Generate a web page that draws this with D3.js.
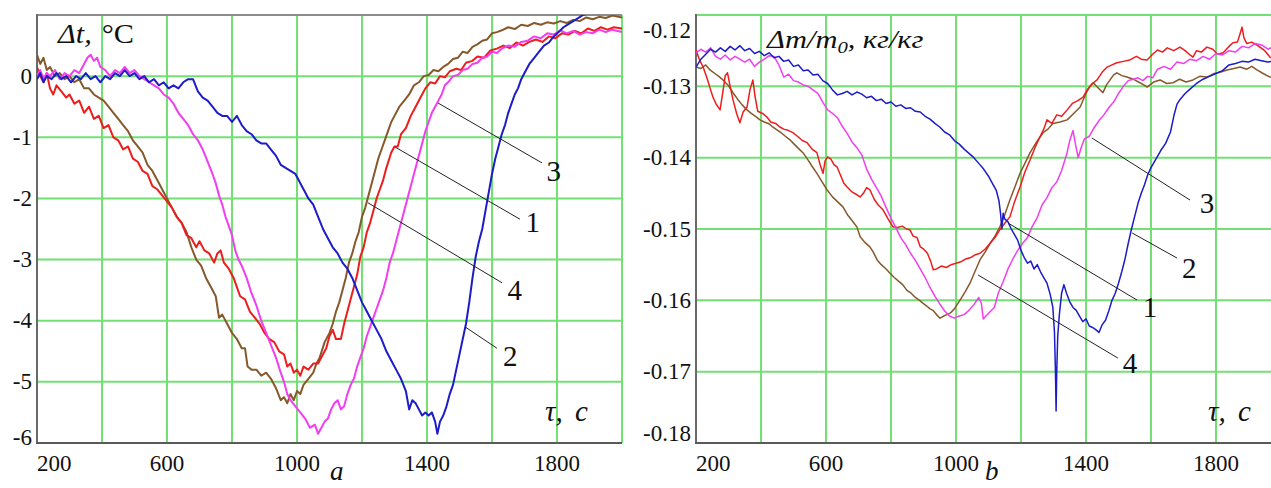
<!DOCTYPE html>
<html>
<head>
<meta charset="utf-8">
<script src="https://cdn.jsdelivr.net/npm/d3@7"></script>
<style>
  html, body { margin: 0; padding: 0; background: #fff; }
  svg { display: block; }
  text { font-family: "Liberation Serif", "Times New Roman", Times, "DejaVu Serif", serif; fill: #111; }
</style>
</head>
<body>
<svg id="chart" width="1271" height="488" font-family="Liberation Serif, Times New Roman, Times, DejaVu Serif, serif"></svg>
<script>
// ---------- time axis (τ, s) ----------
const tauTicks = [200, 600, 1000, 1400, 1800];
const tauTickLabels = ["200", "600", "1000", "1400", "1800"];
const tauGrid = [400, 600, 800, 1000, 1200, 1400, 1600, 1800, 2000];

// ---------- panel a: temperature difference Δt, °C ----------
const dtTicks = [0, -1, -2, -3, -4, -5, -6];
const dtTickLabels = ["0", "-1", "-2", "-3", "-4", "-5", "-6"];

// curve 1 (red)
const dt1 = [[200,0.15],[210,0.0],[220,-0.1],[230,0.05],[240,-0.2],[250,-0.3],[260,-0.15],[275,-0.25],[290,-0.35],[300,-0.3],[315,-0.45],[330,-0.4],[345,-0.6],[360,-0.5],[375,-0.7],[390,-0.65],[405,-0.85],[420,-0.8],[435,-1.0],[450,-1.05],[465,-1.2],[480,-1.15],[495,-1.35],[510,-1.4],[525,-1.55],[540,-1.6],[555,-1.8],[570,-1.85],[585,-1.95],[600,-2.05],[615,-2.15],[630,-2.3],[645,-2.4],[660,-2.6],[675,-2.65],[690,-2.8],[700,-2.7],[715,-2.85],[730,-2.9],[745,-3.05],[755,-2.9],[765,-2.85],[775,-3.05],[790,-3.15],[805,-3.3],[815,-3.45],[825,-3.6],[840,-3.65],[855,-3.85],[870,-3.95],[885,-4.05],[900,-4.2],[915,-4.3],[930,-4.35],[945,-4.5],[960,-4.55],[970,-4.75],[980,-4.7],[990,-4.85],[1000,-4.8],[1010,-4.9],[1020,-4.75],[1035,-4.8],[1050,-4.7],[1065,-4.7],[1080,-4.55],[1090,-4.45],[1100,-4.25],[1110,-4.15],[1120,-4.3],[1135,-4.3],[1145,-4.05],[1155,-3.85],[1165,-3.65],[1175,-3.45],[1185,-3.25],[1195,-2.95],[1205,-2.8],[1215,-2.55],[1225,-2.4],[1235,-2.2],[1245,-2.0],[1255,-1.85],[1265,-1.7],[1275,-1.5],[1290,-1.25],[1300,-1.15],[1310,-1.15],[1320,-0.95],[1335,-0.85],[1350,-0.65],[1365,-0.5],[1380,-0.35],[1395,-0.2],[1410,-0.1],[1425,-0.12],[1440,0.0],[1455,-0.02],[1470,0.08],[1490,0.12],[1505,0.1],[1520,0.22],[1540,0.25],[1555,0.32],[1575,0.3],[1595,0.42],[1615,0.45],[1635,0.5],[1655,0.46],[1675,0.55],[1695,0.5],[1715,0.56],[1735,0.6],[1755,0.56],[1775,0.65],[1795,0.62],[1815,0.7],[1835,0.68],[1855,0.74],[1875,0.7],[1895,0.78],[1915,0.74],[1935,0.8],[1955,0.76],[1975,0.8],[2000,0.78]];

// curve 2 (blue)
const dt2 = [[200,-0.05],[210,0.05],[220,-0.1],[230,0.0],[245,-0.05],[260,0.05],[275,-0.05],[290,0.0],[305,-0.1],[320,0.0],[335,-0.05],[350,0.05],[365,-0.05],[380,0.0],[395,-0.1],[410,0.0],[425,-0.05],[440,0.05],[455,0.0],[470,0.1],[485,0.0],[500,0.05],[515,-0.05],[530,0.0],[545,-0.1],[560,-0.05],[575,-0.15],[590,-0.1],[605,-0.2],[620,-0.15],[635,-0.2],[650,-0.1],[665,-0.05],[680,-0.05],[695,-0.25],[710,-0.35],[725,-0.4],[740,-0.5],[755,-0.6],[770,-0.65],[785,-0.65],[800,-0.75],[815,-0.65],[830,-0.8],[845,-0.9],[860,-0.95],[875,-1.05],[890,-1.1],[905,-1.1],[920,-1.2],[935,-1.3],[950,-1.45],[965,-1.5],[980,-1.55],[995,-1.6],[1005,-1.7],[1015,-1.8],[1025,-1.9],[1035,-2.0],[1050,-2.1],[1065,-2.3],[1080,-2.5],[1095,-2.65],[1110,-2.8],[1125,-2.9],[1140,-3.05],[1155,-3.15],[1170,-3.3],[1185,-3.5],[1200,-3.7],[1215,-3.85],[1230,-4.0],[1245,-4.15],[1260,-4.3],[1275,-4.5],[1290,-4.65],[1305,-4.8],[1320,-4.95],[1335,-5.15],[1345,-5.45],[1355,-5.3],[1365,-5.35],[1375,-5.45],[1385,-5.55],[1395,-5.5],[1405,-5.55],[1415,-5.5],[1425,-5.65],[1432,-5.85],[1440,-5.65],[1450,-5.55],[1460,-5.4],[1470,-5.2],[1480,-5.05],[1490,-4.8],[1500,-4.55],[1510,-4.3],[1520,-4.05],[1530,-3.7],[1540,-3.3],[1550,-2.95],[1560,-2.7],[1570,-2.5],[1580,-2.2],[1590,-1.9],[1600,-1.6],[1610,-1.35],[1620,-1.15],[1630,-0.95],[1640,-0.8],[1650,-0.6],[1660,-0.45],[1670,-0.3],[1680,-0.2],[1690,-0.05],[1700,0.05],[1715,0.2],[1730,0.3],[1745,0.4],[1760,0.5],[1775,0.55],[1790,0.65],[1805,0.72],[1820,0.8],[1835,0.85],[1850,0.9],[1865,0.95],[1880,1.0],[1900,1.03],[1930,1.05],[1960,1.04],[2000,1.06]];

// curve 3 (magenta)
const dt3 = [[200,0.0],[210,0.1],[220,-0.05],[230,0.05],[240,0.0],[255,0.1],[270,-0.05],[285,0.05],[300,0.0],[315,0.1],[330,0.05],[345,0.2],[355,0.3],[365,0.35],[375,0.25],[385,0.3],[395,0.15],[410,0.1],[425,0.0],[440,0.1],[455,0.05],[470,0.15],[485,0.05],[500,0.1],[515,0.0],[530,-0.05],[545,-0.1],[560,-0.15],[575,-0.2],[590,-0.3],[605,-0.35],[620,-0.45],[635,-0.6],[650,-0.7],[665,-0.8],[680,-0.95],[695,-1.05],[710,-1.2],[725,-1.4],[740,-1.6],[750,-1.75],[760,-1.95],[770,-2.1],[780,-2.3],[790,-2.45],[800,-2.6],[810,-2.85],[820,-3.0],[830,-3.1],[845,-3.3],[860,-3.55],[875,-3.75],[890,-4.0],[905,-4.2],[920,-4.4],[935,-4.6],[950,-4.85],[960,-5.0],[970,-5.2],[980,-5.3],[995,-5.4],[1010,-5.5],[1025,-5.6],[1040,-5.75],[1055,-5.7],[1065,-5.85],[1075,-5.75],[1085,-5.65],[1095,-5.6],[1105,-5.45],[1115,-5.35],[1125,-5.3],[1135,-5.45],[1145,-5.4],[1155,-5.2],[1165,-5.05],[1175,-4.95],[1185,-4.75],[1195,-4.6],[1205,-4.45],[1215,-4.25],[1225,-4.1],[1235,-3.95],[1245,-3.8],[1255,-3.65],[1265,-3.5],[1275,-3.3],[1285,-3.05],[1295,-2.9],[1305,-2.7],[1315,-2.5],[1325,-2.3],[1335,-2.1],[1345,-1.9],[1355,-1.7],[1365,-1.5],[1375,-1.3],[1385,-1.1],[1395,-0.9],[1405,-0.75],[1415,-0.6],[1425,-0.5],[1435,-0.4],[1445,-0.3],[1455,-0.15],[1465,-0.1],[1480,0.0],[1495,0.02],[1510,0.1],[1525,0.12],[1540,0.2],[1555,0.22],[1570,0.3],[1585,0.32],[1600,0.4],[1615,0.38],[1630,0.45],[1650,0.5],[1670,0.48],[1690,0.56],[1710,0.58],[1730,0.65],[1750,0.62],[1770,0.7],[1790,0.68],[1810,0.75],[1830,0.7],[1850,0.74],[1870,0.68],[1890,0.72],[1910,0.7],[1930,0.76],[1950,0.72],[1970,0.76],[2000,0.72]];

// curve 4 (brown)
const dt4 = [[200,0.35],[210,0.2],[220,0.3],[230,0.1],[240,0.15],[255,0.0],[270,0.05],[285,-0.05],[300,0.0],[315,-0.1],[330,-0.05],[345,-0.2],[360,-0.2],[375,-0.3],[390,-0.35],[405,-0.4],[420,-0.5],[435,-0.6],[450,-0.7],[465,-0.8],[480,-0.9],[495,-1.05],[510,-1.15],[525,-1.25],[540,-1.45],[555,-1.55],[570,-1.7],[585,-1.85],[600,-2.0],[615,-2.15],[630,-2.3],[645,-2.4],[660,-2.55],[675,-2.8],[690,-3.0],[705,-3.1],[720,-3.3],[735,-3.45],[750,-3.6],[760,-3.95],[770,-3.9],[785,-4.05],[800,-4.2],[815,-4.3],[830,-4.45],[840,-4.45],[848,-4.75],[860,-4.8],[875,-4.8],[890,-4.9],[905,-4.85],[920,-4.95],[935,-5.1],[950,-5.3],[960,-5.25],[970,-5.35],[980,-5.2],[990,-5.3],[1000,-5.15],[1010,-5.2],[1020,-5.05],[1035,-4.95],[1050,-4.85],[1060,-4.7],[1070,-4.6],[1085,-4.35],[1100,-4.2],[1110,-4.05],[1120,-3.85],[1130,-3.7],[1140,-3.5],[1150,-3.3],[1160,-3.05],[1170,-2.9],[1180,-2.7],[1190,-2.55],[1200,-2.3],[1210,-2.15],[1220,-1.95],[1230,-1.75],[1240,-1.55],[1250,-1.35],[1260,-1.2],[1270,-1.05],[1280,-0.9],[1290,-0.75],[1300,-0.65],[1315,-0.5],[1330,-0.4],[1345,-0.3],[1360,-0.15],[1375,-0.1],[1390,0.0],[1405,0.02],[1420,0.1],[1435,0.08],[1450,0.15],[1465,0.2],[1480,0.28],[1495,0.3],[1510,0.4],[1525,0.38],[1540,0.48],[1555,0.52],[1570,0.58],[1585,0.6],[1600,0.7],[1615,0.72],[1630,0.75],[1650,0.8],[1670,0.77],[1690,0.84],[1710,0.82],[1730,0.87],[1750,0.84],[1770,0.88],[1790,0.86],[1810,0.9],[1830,0.87],[1850,0.92],[1870,0.9],[1890,0.96],[1910,0.93],[1930,0.97],[1950,0.95],[1970,0.99],[2000,0.96]];

// ---------- panel b: relative mass change Δm/m0, kg/kg ----------
const dmTicks = [-0.12, -0.13, -0.14, -0.15, -0.16, -0.17, -0.18];
const dmTickLabels = ["-0.12", "-0.13", "-0.14", "-0.15", "-0.16", "-0.17", "-0.18"];

// curve 1 (red)
const dm1 = [[200,-0.1249],[210,-0.1262],[222,-0.1273],[235,-0.1290],[245,-0.1305],[252,-0.1315],[262,-0.1325],[274,-0.1333],[282,-0.1310],[290,-0.1285],[297,-0.1281],[305,-0.1300],[314,-0.1319],[325,-0.1338],[335,-0.1351],[345,-0.1336],[357,-0.1329],[366,-0.1305],[375,-0.1291],[382,-0.1315],[390,-0.1335],[405,-0.1338],[418,-0.1343],[430,-0.1350],[445,-0.1352],[458,-0.1357],[470,-0.1360],[485,-0.1362],[498,-0.1365],[512,-0.1370],[527,-0.1376],[542,-0.1379],[557,-0.1388],[572,-0.1393],[582,-0.1410],[591,-0.1422],[597,-0.1405],[605,-0.1399],[615,-0.1402],[625,-0.1410],[634,-0.1413],[645,-0.1425],[655,-0.1436],[665,-0.1441],[680,-0.1448],[695,-0.1452],[705,-0.1455],[715,-0.1450],[725,-0.1442],[735,-0.1445],[748,-0.1458],[760,-0.1466],[775,-0.1473],[790,-0.1485],[806,-0.1497],[820,-0.1498],[835,-0.1496],[848,-0.1500],[858,-0.1501],[868,-0.1510],[880,-0.1512],[890,-0.1525],[900,-0.1528],[912,-0.1534],[922,-0.1545],[930,-0.1557],[940,-0.1556],[955,-0.1552],[970,-0.1554],[985,-0.1550],[1000,-0.1548],[1015,-0.1546],[1030,-0.1542],[1045,-0.1540],[1060,-0.1536],[1074,-0.1534],[1090,-0.1528],[1105,-0.1520],[1120,-0.1512],[1135,-0.1501],[1150,-0.1492],[1166,-0.1483],[1180,-0.1462],[1197,-0.1441],[1212,-0.1420],[1228,-0.1403],[1243,-0.1386],[1258,-0.1371],[1270,-0.1360],[1280,-0.1347],[1295,-0.1352],[1310,-0.1340],[1325,-0.1342],[1342,-0.1333],[1358,-0.1324],[1375,-0.1320],[1391,-0.1315],[1405,-0.1304],[1420,-0.1296],[1434,-0.1291],[1450,-0.1280],[1465,-0.1273],[1480,-0.1270],[1495,-0.1267],[1515,-0.1265],[1535,-0.1263],[1555,-0.1258],[1570,-0.1262],[1588,-0.1263],[1605,-0.1255],[1620,-0.1249],[1635,-0.1252],[1650,-0.1246],[1670,-0.1250],[1689,-0.1245],[1705,-0.1250],[1720,-0.1256],[1729,-0.1259],[1740,-0.1250],[1755,-0.1252],[1772,-0.1245],[1790,-0.1248],[1805,-0.1255],[1822,-0.1253],[1840,-0.1244],[1852,-0.1239],[1866,-0.1238],[1875,-0.1225],[1880,-0.1217],[1886,-0.1232],[1895,-0.1240],[1910,-0.1238],[1925,-0.1242],[1935,-0.1245],[1950,-0.1250],[1966,-0.1259],[1980,-0.1262],[2000,-0.1268]];

// curve 2 (blue)
const dm2 = [[200,-0.1273],[215,-0.1262],[230,-0.1255],[245,-0.1248],[260,-0.1252],[275,-0.1246],[290,-0.1251],[305,-0.1244],[320,-0.1249],[335,-0.1243],[350,-0.1250],[365,-0.1247],[380,-0.1254],[395,-0.1251],[410,-0.1257],[425,-0.1253],[440,-0.1260],[455,-0.1258],[470,-0.1265],[485,-0.1263],[500,-0.1272],[515,-0.1270],[530,-0.1278],[545,-0.1277],[560,-0.1284],[575,-0.1283],[590,-0.1292],[605,-0.1296],[620,-0.1305],[635,-0.1312],[650,-0.1310],[665,-0.1307],[680,-0.1312],[695,-0.1308],[710,-0.1311],[725,-0.1316],[740,-0.1314],[755,-0.1320],[770,-0.1318],[785,-0.1324],[800,-0.1322],[815,-0.1328],[830,-0.1326],[845,-0.1331],[860,-0.1330],[875,-0.1335],[890,-0.1336],[905,-0.1342],[920,-0.1346],[935,-0.1352],[950,-0.1357],[965,-0.1364],[980,-0.1368],[995,-0.1376],[1010,-0.1381],[1025,-0.1388],[1040,-0.1394],[1055,-0.1400],[1070,-0.1408],[1085,-0.1416],[1100,-0.1426],[1112,-0.1436],[1124,-0.1446],[1132,-0.1460],[1137,-0.1478],[1141,-0.1500],[1145,-0.1478],[1150,-0.1486],[1160,-0.1490],[1170,-0.1500],[1180,-0.1508],[1190,-0.1516],[1200,-0.1530],[1210,-0.1540],[1220,-0.1548],[1230,-0.1545],[1240,-0.1556],[1250,-0.1550],[1260,-0.1560],[1270,-0.1568],[1280,-0.1576],[1290,-0.1592],[1298,-0.1610],[1303,-0.1645],[1306,-0.1700],[1308,-0.1755],[1310,-0.1700],[1313,-0.1650],[1318,-0.1620],[1325,-0.1590],[1332,-0.1578],[1340,-0.1590],[1350,-0.1602],[1360,-0.1610],[1370,-0.1614],[1380,-0.1622],[1390,-0.1630],[1400,-0.1626],[1410,-0.1636],[1420,-0.1638],[1430,-0.1641],[1440,-0.1645],[1450,-0.1634],[1460,-0.1628],[1470,-0.1615],[1480,-0.1600],[1490,-0.1590],[1500,-0.1576],[1510,-0.1560],[1520,-0.1542],[1530,-0.1520],[1540,-0.1500],[1550,-0.1482],[1560,-0.1464],[1570,-0.1450],[1580,-0.1438],[1590,-0.1424],[1600,-0.1414],[1615,-0.1402],[1630,-0.1390],[1645,-0.1380],[1660,-0.1364],[1670,-0.1342],[1680,-0.1325],[1690,-0.1318],[1705,-0.1310],[1720,-0.1304],[1740,-0.1296],[1760,-0.1290],[1780,-0.1286],[1800,-0.1282],[1820,-0.1278],[1840,-0.1270],[1860,-0.1268],[1880,-0.1265],[1900,-0.1266],[1920,-0.1262],[1940,-0.1264],[1960,-0.1266],[1980,-0.1264],[2000,-0.1268]];

// curve 3 (magenta)
const dm3 = [[200,-0.1253],[215,-0.1248],[230,-0.1252],[245,-0.1246],[260,-0.1258],[275,-0.1262],[290,-0.1256],[305,-0.1263],[320,-0.1258],[335,-0.1262],[350,-0.1266],[365,-0.1262],[380,-0.1272],[395,-0.1266],[410,-0.1262],[425,-0.1257],[440,-0.1258],[455,-0.1270],[470,-0.1287],[485,-0.1283],[500,-0.1292],[515,-0.1294],[530,-0.1298],[545,-0.1300],[560,-0.1305],[575,-0.1310],[590,-0.1322],[605,-0.1333],[620,-0.1338],[635,-0.1344],[650,-0.1356],[665,-0.1366],[680,-0.1378],[695,-0.1386],[710,-0.1396],[725,-0.1416],[740,-0.1430],[755,-0.1442],[770,-0.1454],[785,-0.1470],[800,-0.1485],[815,-0.1498],[830,-0.1512],[845,-0.1522],[860,-0.1534],[875,-0.1544],[890,-0.1556],[905,-0.1568],[920,-0.1582],[935,-0.1594],[950,-0.1605],[965,-0.1615],[980,-0.1622],[995,-0.1625],[1010,-0.1622],[1025,-0.1620],[1040,-0.1614],[1055,-0.1606],[1070,-0.1596],[1078,-0.1604],[1084,-0.1626],[1092,-0.1622],[1105,-0.1616],[1118,-0.1610],[1130,-0.1590],[1145,-0.1574],[1160,-0.1556],[1175,-0.1542],[1190,-0.1530],[1205,-0.1520],[1220,-0.1512],[1235,-0.1496],[1250,-0.1484],[1265,-0.1466],[1280,-0.1456],[1295,-0.1442],[1310,-0.1434],[1325,-0.1418],[1340,-0.1396],[1350,-0.1376],[1360,-0.1362],[1368,-0.1382],[1376,-0.1400],[1385,-0.1386],[1395,-0.1374],[1410,-0.1370],[1425,-0.1358],[1440,-0.1348],[1455,-0.1340],[1470,-0.1330],[1485,-0.1322],[1500,-0.1310],[1515,-0.1300],[1530,-0.1292],[1545,-0.1290],[1560,-0.1288],[1575,-0.1292],[1590,-0.1286],[1605,-0.1288],[1620,-0.1276],[1640,-0.1272],[1660,-0.1276],[1680,-0.1266],[1700,-0.1268],[1720,-0.1262],[1740,-0.1264],[1760,-0.1258],[1780,-0.1262],[1800,-0.1254],[1820,-0.1256],[1840,-0.1250],[1860,-0.1252],[1880,-0.1244],[1900,-0.1246],[1920,-0.1240],[1940,-0.1242],[1960,-0.1248],[1980,-0.1244],[2000,-0.1250]];

// curve 4 (brown)
const dm4 = [[200,-0.1273],[215,-0.1275],[230,-0.1270],[243,-0.1277],[258,-0.1282],[270,-0.1286],[283,-0.1291],[298,-0.1298],[314,-0.1309],[328,-0.1318],[342,-0.1326],[357,-0.1333],[370,-0.1338],[383,-0.1342],[397,-0.1347],[410,-0.1350],[423,-0.1352],[436,-0.1357],[449,-0.1361],[462,-0.1365],[475,-0.1370],[489,-0.1375],[502,-0.1381],[515,-0.1387],[529,-0.1393],[543,-0.1402],[557,-0.1412],[572,-0.1422],[588,-0.1434],[603,-0.1445],[620,-0.1455],[636,-0.1462],[652,-0.1469],[666,-0.1480],[680,-0.1488],[695,-0.1497],[705,-0.1511],[718,-0.1518],[735,-0.1525],[745,-0.1532],[757,-0.1543],[770,-0.1550],[785,-0.1556],[797,-0.1562],[810,-0.1568],[823,-0.1573],[836,-0.1578],[849,-0.1586],[862,-0.1590],[875,-0.1596],[888,-0.1600],[898,-0.1604],[910,-0.1608],[920,-0.1612],[929,-0.1614],[940,-0.1620],[951,-0.1625],[962,-0.1622],[972,-0.1620],[982,-0.1618],[995,-0.1612],[1012,-0.1600],[1028,-0.1588],[1043,-0.1576],[1058,-0.1560],[1074,-0.1543],[1090,-0.1532],[1105,-0.1520],[1120,-0.1510],[1135,-0.1497],[1150,-0.1480],[1166,-0.1459],[1182,-0.1440],[1197,-0.1422],[1212,-0.1408],[1228,-0.1393],[1248,-0.1378],[1268,-0.1365],[1283,-0.1360],[1298,-0.1352],[1320,-0.1350],[1342,-0.1347],[1362,-0.1338],[1382,-0.1329],[1400,-0.1310],[1412,-0.1300],[1422,-0.1295],[1437,-0.1302],[1452,-0.1309],[1463,-0.1298],[1474,-0.1291],[1485,-0.1284],[1495,-0.1281],[1510,-0.1285],[1526,-0.1287],[1545,-0.1290],[1566,-0.1295],[1578,-0.1298],[1588,-0.1301],[1608,-0.1294],[1628,-0.1291],[1648,-0.1296],[1668,-0.1295],[1688,-0.1290],[1708,-0.1294],[1729,-0.1291],[1750,-0.1286],[1772,-0.1287],[1795,-0.1282],[1815,-0.1280],[1834,-0.1277],[1855,-0.1275],[1874,-0.1273],[1895,-0.1276],[1910,-0.1272],[1926,-0.1277],[1945,-0.1282],[1966,-0.1287],[1985,-0.1284],[2000,-0.1288]];

// curve numbering: [label, τ and value where the leader touches the curve, leader end, label centre]
const calloutsA = [
  ["3", [1434, -0.44], [1754, -1.42], [1790, -1.55]],
  ["1", [1302, -1.16], [1686, -2.34], [1725, -2.38]],
  ["4", [1218, -2.07], [1631, -3.38], [1670, -3.49]],
  ["2", [1517, -4.10], [1615, -4.45], [1656, -4.57]]
];
const calloutsB = [
  ["3", [1418, -0.13724], [1720, -0.14594], [1772, -0.14640]],
  ["2", [1542, -0.15056], [1680, -0.15407], [1718, -0.15550]],
  ["1", [1160, -0.14916], [1557, -0.15996], [1597, -0.16096]],
  ["4", [1068, -0.15645], [1498, -0.16809], [1535, -0.16882]]
];

const colors = { 1: "#ee1d1d", 2: "#1c1cc8", 3: "#f03ef0", 4: "#86592c" };
const gridColor = "#72e072";
const FONT = "Liberation Serif, Times New Roman, Times, DejaVu Serif, serif";

const svg = d3.select("#chart");
svg.append("rect").attr("width", 1271).attr("height", 488).attr("fill", "#fff");

function drawPanel(cfg) {
  const x = d3.scaleLinear().domain([200, 2000]).range([cfg.left, cfg.right]);
  const y = d3.scaleLinear().domain(cfg.yDomain).range([cfg.bottom, cfg.top]);
  const g = svg.append("g").attr("font-family", FONT);

  const clipId = "clip-" + cfg.id;
  svg.append("clipPath").attr("id", clipId)
    .append("rect").attr("x", cfg.left).attr("y", cfg.top)
    .attr("width", cfg.right - cfg.left).attr("height", cfg.bottom - cfg.top);

  // grid
  g.append("g").selectAll("line").data(tauGrid).join("line")
    .attr("x1", d => x(d)).attr("x2", d => x(d))
    .attr("y1", cfg.top).attr("y2", cfg.bottom)
    .attr("stroke", gridColor).attr("stroke-width", 2);
  g.append("g").selectAll("line").data(cfg.yGrid).join("line")
    .attr("x1", cfg.left).attr("x2", cfg.right)
    .attr("y1", d => y(d)).attr("y2", d => y(d))
    .attr("stroke", gridColor).attr("stroke-width", 2);

  // frame
  g.append("line").attr("x1", cfg.left).attr("x2", cfg.right).attr("y1", cfg.top).attr("y2", cfg.top)
    .attr("stroke", cfg.topColor).attr("stroke-width", 2);
  g.append("line").attr("x1", cfg.left).attr("x2", cfg.left).attr("y1", cfg.top - 1).attr("y2", cfg.bottom + 1)
    .attr("stroke", "#6a6a6a").attr("stroke-width", 2);
  g.append("line").attr("x1", cfg.left - 1).attr("x2", cfg.right).attr("y1", cfg.bottom).attr("y2", cfg.bottom)
    .attr("stroke", "#5a5a5a").attr("stroke-width", 2);

  // curves
  const line = d3.line().x(d => x(d[0])).y(d => y(d[1]));
  const curves = g.append("g").attr("clip-path", `url(#${clipId})`);
  cfg.series.forEach(s => {
    curves.append("path").datum(s.values)
      .attr("d", line).attr("fill", "none")
      .attr("stroke", colors[s.n]).attr("stroke-width", cfg.lineWidth)
      .attr("stroke-linejoin", "round");
  });

  // callouts
  cfg.callouts.forEach(([lab, p0, p1, pl]) => {
    g.append("line")
      .attr("x1", x(p0[0])).attr("y1", y(p0[1]))
      .attr("x2", x(p1[0])).attr("y2", y(p1[1]))
      .attr("stroke", "#222").attr("stroke-width", 1);
    g.append("text").attr("x", x(pl[0])).attr("y", y(pl[1]))
      .attr("text-anchor", "middle").attr("dominant-baseline", "central")
      .attr("font-size", 29).text(lab);
  });

  // y tick labels (the extreme ones are nudged inside the frame)
  g.append("g").selectAll("text").data(cfg.yTicks).join("text")
    .attr("x", cfg.left - 5)
    .attr("y", d => {
      let yy = y(d);
      if (yy - cfg.top < 8) yy = cfg.top + 15;
      if (cfg.bottom - yy < 8) yy = cfg.bottom - cfg.bottomLabelShift;
      return yy;
    })
    .attr("text-anchor", "end").attr("dominant-baseline", "central")
    .attr("font-size", 23).text((d, i) => cfg.yTickLabels[i]);

  // x tick labels: the first one starts at the axis origin
  g.append("g").selectAll("text").data(tauTicks).join("text")
    .attr("x", d => x(d))
    .attr("y", cfg.bottom + 20)
    .attr("text-anchor", (d, i) => i === 0 ? "start" : "middle")
    .attr("dominant-baseline", "central")
    .attr("font-size", 23).text((d, i) => tauTickLabels[i]);

  // axis names
  const yt = g.append("text")
    .attr("transform", `translate(${cfg.left + cfg.yTitleDx},${cfg.top + cfg.yTitleDy}) scale(${cfg.yTitleSx},1)`)
    .attr("font-size", cfg.yTitleSize).attr("font-style", "italic");
  cfg.yTitle(yt);
  g.append("text").attr("x", cfg.left + cfg.xTitleDx).attr("y", cfg.bottom - 22)
    .attr("font-size", 29).attr("font-style", "italic")
    .attr("word-spacing", "5px").text("τ, c");

  // panel letter
  g.append("text").attr("x", cfg.letterX).attr("y", 480)
    .attr("font-size", 27).attr("font-style", "italic").text(cfg.letter);
}

drawPanel({
  id: "a", left: 37, right: 622, top: 15, bottom: 443,
  yDomain: [-6, 1], yGrid: [0, -1, -2, -3, -4, -5], bottomLabelShift: 6,
  yTicks: dtTicks, yTickLabels: dtTickLabels, topColor: "#8c8c8c", lineWidth: 2,
  series: [{ n: 4, values: dt4 }, { n: 1, values: dt1 }, { n: 3, values: dt3 }, { n: 2, values: dt2 }],
  callouts: calloutsA,
  yTitleDx: 21, yTitleDy: 28, yTitleSize: 27, yTitleSx: 1.12,
  yTitle: t => { t.append("tspan").text("Δt,"); t.append("tspan").attr("dx", 9).attr("font-style", "normal").text("°C"); },
  xTitleDx: 508, letter: "a", letterX: 330
});

drawPanel({
  id: "b", left: 696, right: 1281, top: 15, bottom: 443,
  yDomain: [-0.18, -0.12], yGrid: [-0.12, -0.13, -0.14, -0.15, -0.16, -0.17], bottomLabelShift: 10,
  yTicks: dmTicks, yTickLabels: dmTickLabels, topColor: gridColor, lineWidth: 1.5,
  series: [{ n: 4, values: dm4 }, { n: 1, values: dm1 }, { n: 3, values: dm3 }, { n: 2, values: dm2 }],
  callouts: calloutsB,
  yTitleDx: 71, yTitleDy: 33, yTitleSize: 25, yTitleSx: 1.22,
  yTitle: t => {
    t.append("tspan").text("Δm/m");
    t.append("tspan").attr("font-size", 17).attr("dy", 5).text("0");
    t.append("tspan").attr("dy", -5).text(",");
    t.append("tspan").attr("dx", 6).text("кг/кг");
  },
  xTitleDx: 512, letter: "b", letterX: 985
});
</script>
</body>
</html>
